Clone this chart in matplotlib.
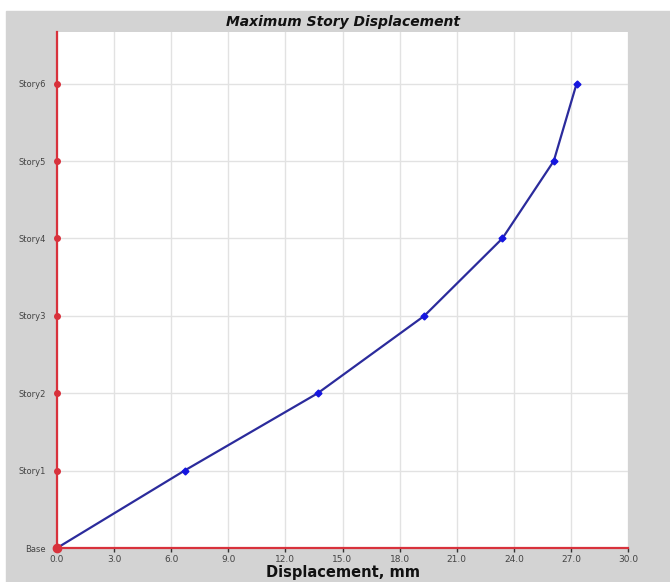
import matplotlib
matplotlib.use('Agg')
import matplotlib.pyplot as plt
from matplotlib.patches import Rectangle

# story levels and max displacement (mm)
stories = ['Base', 'Story1', 'Story2', 'Story3', 'Story4', 'Story5', 'Story6']
disp = [0.0, 6.7, 13.7, 19.3, 23.4, 26.1, 27.3]
x_ticks = [0.0, 3.0, 6.0, 9.0, 12.0, 15.0, 18.0, 21.0, 24.0, 27.0, 30.0]

plt.rcParams['font.family'] = ['DejaVu Sans']

fig = plt.figure(figsize=(6.7, 5.82), dpi=100)
fig.patch.set_facecolor('white')
# grey panel behind the chart
fig.patches.append(Rectangle((6 / 670, 0), 1, (582 - 11) / 582,
                             transform=fig.transFigure, color='#d3d3d3',
                             zorder=-10))

ax = fig.add_axes([57 / 670, 34 / 582, (628 - 57) / 670, (548 - 32) / 582])
ax.set_facecolor('white')

levels = list(range(len(stories)))
ax.plot(disp, levels, color='#2b2b9c', lw=1.6, marker='D', ms=3.5,
        mfc='#1515e0', mec='#1515e0', zorder=3)

# red markers on the storey axis
ax.plot([0] * len(levels), levels, ls='none', marker='o', ms=4,
        color='#d8323c', clip_on=False, zorder=4)
ax.plot([0], [0], ls='none', marker='o', ms=6, color='#d8323c',
        clip_on=False, zorder=5)

ax.set_xlim(0, 30)
ax.set_ylim(0, 6.667)
ax.set_xticks(x_ticks)
ax.set_xticklabels([f'{v:.1f}' for v in x_ticks])
ax.set_yticks(levels)
ax.set_yticklabels(stories)

ax.grid(True, color='#e2e2e2', lw=1)
ax.set_axisbelow(True)

for s in ['top', 'right']:
    ax.spines[s].set_visible(False)
for s in ['left', 'bottom']:
    ax.spines[s].set_color('#d8323c')
    ax.spines[s].set_linewidth(1.6)

ax.tick_params(axis='x', length=3, width=1, color='#333333',
               labelsize=6.5, labelcolor='#444444', pad=2)
ax.tick_params(axis='y', length=0, labelsize=6, labelcolor='#444444', pad=8)

ax.set_title('Maximum Story Displacement', fontsize=10, fontweight='bold',
             fontstyle='italic', color='#111111', pad=4)
ax.set_xlabel('Displacement, mm', fontsize=10.5, fontweight='bold',
              color='#111111', labelpad=1)

fig.savefig('out.png', dpi=100, facecolor=fig.get_facecolor())
